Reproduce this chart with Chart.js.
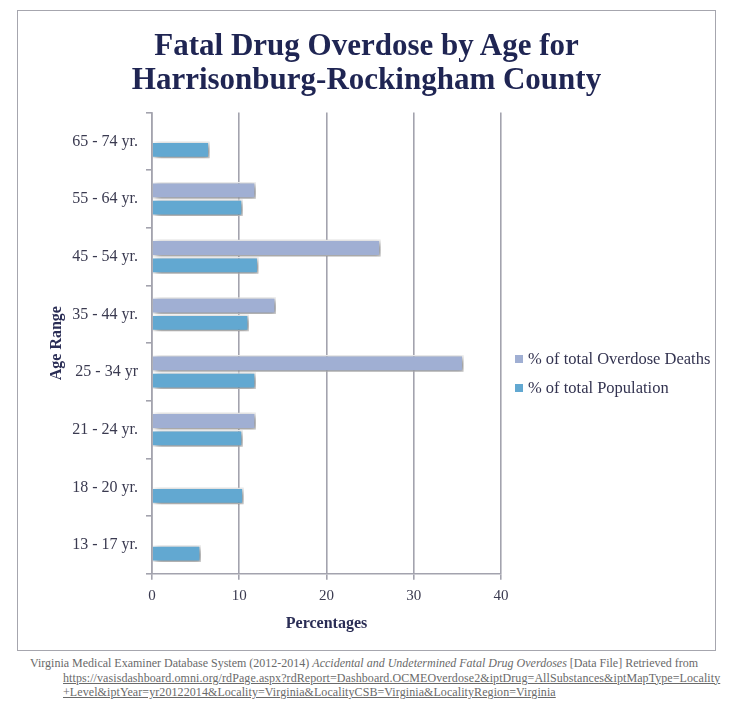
<!DOCTYPE html>
<html>
<head>
<meta charset="utf-8">
<script src="https://cdn.jsdelivr.net/npm/chart.js@4"></script>
<style>
  body { margin: 0; background: #fff; width: 736px; height: 709px; position: relative; overflow: hidden; }
  #frame { position: absolute; left: 17px; top: 10px; width: 697px; height: 639px; border: 1.5px solid #a6a6ae; }
  #frame canvas { position: absolute; left: 0; top: 0; }
  #titulo { position: absolute; left: 0; top: 17px; width: 697px; text-align: center; font-family: "Liberation Serif", serif; font-weight: bold; font-size: 31px; line-height: 34px; color: #1f2553; }
  #legend { position: absolute; left: 497px; top: 333px; font-family: "Liberation Serif", serif; font-size: 16.5px; color: #333350; }
  #legend div { height: 29px; display: flex; align-items: center; }
  #legend span.box { display: inline-block; width: 8px; height: 8px; margin-right: 5px; }
  #source { position: absolute; left: 30px; top: 656px; width: 706px; font-family: "Liberation Serif", serif; font-size: 12px; line-height: 14.6px; color: #6a6a6a; white-space: nowrap; }
  #source .url { display: block; padding-left: 33px; text-decoration: underline; letter-spacing: 0.08px; }
</style>
</head>
<body>
<div id="frame">
  <canvas id="grafico" width="697" height="639"></canvas>
  <div id="titulo">Fatal Drug Overdose by Age for<br>Harrisonburg-Rockingham County</div>
  <div id="legend"></div>
</div>
<div id="source">Virginia Medical Examiner Database System (2012-2014) <i>Accidental and Undetermined Fatal Drug Overdoses</i> [Data File] Retrieved from
  <span class="url">https://vasisdashboard.omni.org/rdPage.aspx?rdReport=Dashboard.OCMEOverdose2&amp;iptDrug=AllSubstances&amp;iptMapType=Locality</span>
  <span class="url">+Level&amp;iptYear=yr20122014&amp;Locality=Virginia&amp;LocalityCSB=Virginia&amp;LocalityRegion=Virginia</span>
</div>
<script>
const edades = ["65 - 74 yr.", "55 - 64 yr.", "45 - 54 yr.", "35 - 44 yr.", "25 - 34 yr", "21 - 24 yr.", "18 - 20 yr.", "13 - 17 yr."];
const muertes = [0, 11.9, 26.2, 14.2, 35.7, 11.9, 0, 0];
const poblacion = [6.6, 10.4, 12.2, 11.1, 11.9, 10.4, 10.5, 5.6];
const ticksX = [0, 10, 20, 30, 40];

const serif = "'Liberation Serif', serif";
const gris = "#a3a3ae";

// sombra de las barras
const sombra = {
  id: "sombra",
  beforeDatasetsDraw(chart) {
    const ctx = chart.ctx;
    ctx.save();
    ctx.shadowColor = "rgba(0,0,0,0.5)";
    ctx.shadowBlur = 6;
    ctx.shadowOffsetX = 2.5;
    ctx.shadowOffsetY = 2;
  },
  afterDatasetsDraw(chart) {
    chart.ctx.restore();
  }
};

const chart = new Chart(document.getElementById("grafico"), {
  type: "bar",
  data: {
    labels: edades,
    datasets: [
      { label: "% of total Overdose Deaths", data: muertes, backgroundColor: "#a0afd3", borderColor: "#ffffff", borderWidth: 1.5 },
      { label: "% of total Population", data: poblacion, backgroundColor: "#62a8d1", borderColor: "#ffffff", borderWidth: 1.5 }
    ]
  },
  plugins: [sombra],
  options: {
    indexAxis: "y",
    responsive: false,
    animation: false,
    categoryPercentage: 0.6,
    barPercentage: 0.97,
    layout: { padding: { top: 101.5, left: 19, right: 214, bottom: 13 } },
    plugins: {
      legend: { display: false },
      tooltip: { enabled: false }
    },
    scales: {
      x: {
        min: 0,
        max: 40,
        afterBuildTicks: s => { s.ticks = ticksX.map(v => ({ value: v })); },
        grid: { color: gris, lineWidth: 1.6, tickLength: 6 },
        border: { color: gris, width: 1.6 },
        ticks: { color: "#3a3a50", font: { family: serif, size: 15 }, padding: 7 },
        title: { display: true, text: "Percentages", color: "#2a2d55", font: { family: serif, size: 16, weight: "bold" }, padding: { top: 2 } }
      },
      y: {
        afterFit: s => { s.width = 115; },
        grid: { offset: true, drawOnChartArea: false, color: gris, lineWidth: 1.6, tickLength: 6 },
        border: { color: gris, width: 1.6 },
        ticks: { color: "#3a3a50", font: { family: serif, size: 16 }, padding: 8 },
        title: { display: true, text: "Age Range", color: "#2a2d55", font: { family: serif, size: 16, weight: "bold" }, padding: { top: 10 } }
      }
    }
  }
});

// leyenda
const leyenda = document.getElementById("legend");
chart.data.datasets.forEach(ds => {
  const d = document.createElement("div");
  const b = document.createElement("span");
  b.className = "box";
  b.style.background = ds.backgroundColor;
  d.appendChild(b);
  d.appendChild(document.createTextNode(ds.label));
  leyenda.appendChild(d);
});
</script>
</body>
</html>
